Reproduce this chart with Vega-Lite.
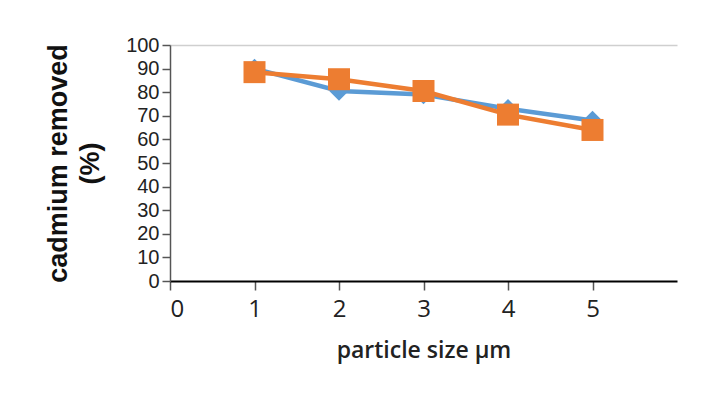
{
  "$schema": "https://vega.github.io/schema/vega-lite/v6.json",
  "autosize": "none",
  "width": 507,
  "height": 236,
  "padding": {"left": 170, "top": 45, "right": 27, "bottom": 127},
  "background": "white",
  "config": {"view": {"stroke": null}, "font": "Open Sans"},
  "data": {
    "values": [
      {"size": 1, "series": "A", "value": 90},
      {"size": 2, "series": "A", "value": 80.5},
      {"size": 3, "series": "A", "value": 79},
      {"size": 4, "series": "A", "value": 73},
      {"size": 5, "series": "A", "value": 68},
      {"size": 1, "series": "B", "value": 88.5},
      {"size": 2, "series": "B", "value": 85.5},
      {"size": 3, "series": "B", "value": 80.5},
      {"size": 4, "series": "B", "value": 70.5},
      {"size": 5, "series": "B", "value": 64}
    ]
  },
  "encoding": {
    "x": {
      "field": "size", "type": "quantitative",
      "scale": {"domain": [0, 6], "nice": false},
      "axis": {
        "title": "particle size µm", "values": [0, 1, 2, 3, 4, 5],
        "grid": false, "domainColor": "#000000", "domainWidth": 2,
        "tickColor": "#555555", "tickSize": 9, "tickWidth": 1.5,
        "labelFont": "Open Sans", "labelFontSize": 24, "labelColor": "#222222", "labelPadding": 7,
        "titleFont": "Open Sans", "titleFontSize": 23, "titleFontWeight": 600, "titleColor": "#222222", "titlePadding": 18
      }
    },
    "y": {
      "field": "value", "type": "quantitative",
      "scale": {"domain": [0, 100], "nice": false},
      "axis": {
        "title": ["cadmium removed", "(%)"], "values": [0,10,20,30,40,50,60,70,80,90,100],
        "grid": true,
        "gridColor": {"condition": {"test": "datum.value == 100", "value": "#cfcfcf"}, "value": null},
        "gridWidth": 1.5,
        "domainColor": "#555555", "domainWidth": 1.5,
        "tickColor": "#555555", "tickSize": 8, "tickWidth": 1.5,
        "labelFont": "Liberation Sans", "labelFontSize": 20, "labelColor": "#222222", "labelPadding": 3,
        "titleFont": "Liberation Sans", "titleFontSize": 27, "titleFontWeight": "bold", "titleColor": "#111111",
        "titleLineHeight": 32, "titlePadding": 21
      }
    },
    "color": {
      "field": "series", "type": "nominal",
      "scale": {"domain": ["A", "B"], "range": ["#5B9BD5", "#ED7D31"]},
      "legend": null
    },
    "shape": {
      "field": "series", "type": "nominal",
      "scale": {"domain": ["A", "B"], "range": ["diamond", "square"]},
      "legend": null
    },
    "size": {
      "field": "series", "type": "nominal",
      "scale": {"domain": ["A", "B"], "range": [380, 484]},
      "legend": null
    }
  },
  "layer": [
    {"mark": {"type": "line", "strokeWidth": 4.5}, "encoding": {"size": {"value": 4.5}}},
    {"mark": {"type": "point", "filled": true, "opacity": 1}}
  ]
}
